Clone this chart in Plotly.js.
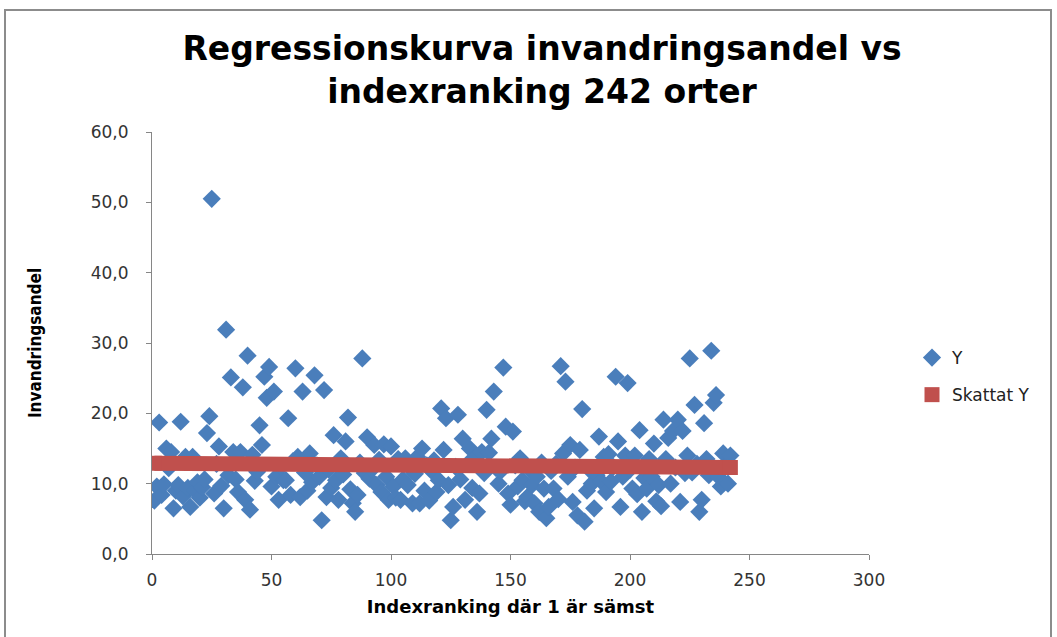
<!DOCTYPE html>
<html>
<head>
<meta charset="utf-8">
<script src="https://cdn.plot.ly/plotly-3.0.1.min.js"></script>
<style>html,body{margin:0;padding:0;background:#fff;}#chart{width:1057px;height:637px;}</style>
</head>
<body>
<div id="chart"></div>
<script>
// Index ranking (1 = worst), 242 towns
var rankX = [];
for (var i = 1; i <= 242; i++) rankX.push(i);

// Invandringsandel (share of immigrants, %), in rank order
var shareY = [
  7.6, 9.6, 18.7, 8.4, 9.9, 15.0, 12.2, 14.5, 6.5, 9.0,
  9.8, 18.8, 8.2, 13.8, 9.4, 6.7, 13.8, 9.0, 10.2, 8.0,
  9.5, 10.6, 17.2, 19.6, 50.5, 8.6, 12.8, 15.3, 9.7, 6.5,
  31.9, 11.2, 25.1, 14.5, 10.6, 8.8, 14.5, 23.7, 7.7, 28.2,
  6.3, 14.1, 10.4, 11.7, 18.3, 15.5, 25.2, 22.2, 26.6, 9.6,
  23.1, 11.0, 7.7, 12.4, 10.5, 10.5, 19.3, 8.4, 13.2, 26.4,
  13.8, 8.1, 23.1, 11.6, 9.0, 14.3, 10.2, 25.4, 12.6, 11.0,
  4.8, 23.3, 8.1, 12.0, 9.4, 16.9, 10.5, 7.7, 13.6, 11.3,
  16.0, 19.4, 9.2, 7.2, 6.0, 8.4, 13.0, 27.8, 11.5, 16.6,
  10.7, 12.0, 15.5, 9.8, 13.4, 8.8, 15.6, 11.0, 7.7, 15.3,
  9.6, 8.0, 13.5, 7.7, 10.6, 13.6, 9.8, 12.2, 7.2, 11.4,
  13.8, 7.2, 15.0, 9.0, 12.6, 7.6, 11.8, 13.3, 8.8, 10.5,
  20.7, 14.8, 19.3, 9.8, 4.8, 6.7, 12.4, 19.8, 10.6, 16.4,
  7.7, 12.8, 15.0, 9.4, 13.6, 6.0, 8.6, 14.5, 11.5, 20.5,
  14.4, 16.4, 23.1, 12.2, 10.0, 11.8, 26.5, 18.1, 8.6, 7.0,
  17.4, 12.6, 9.6, 13.6, 10.5, 7.5, 8.1, 12.0, 9.8, 7.2,
  11.0, 6.0, 13.0, 9.3, 5.1, 6.7, 11.8, 9.3, 12.8, 7.8,
  26.7, 14.3, 24.5, 11.0, 15.5, 7.4, 12.3, 5.5, 14.8, 20.6,
  4.6, 9.0, 12.0, 10.0, 6.5, 11.2, 16.7, 10.3, 13.8, 8.8,
  14.2, 10.3, 12.4, 25.2, 16.0, 6.7, 11.0, 14.0, 24.3, 12.0,
  9.3, 14.0, 8.5, 17.6, 6.0, 10.8, 9.3, 13.5, 11.0, 15.7,
  7.5, 9.8, 6.8, 19.1, 13.5, 16.5, 10.0, 17.5, 12.3, 19.1,
  7.4, 17.5, 11.5, 14.0, 27.8, 11.6, 21.2, 12.8, 6.0, 7.7,
  18.6, 13.5, 11.2, 28.9, 21.5, 22.6, 11.0, 9.6, 14.3, 12.5,
  10.0, 14.0
];

// Skattat Y (fitted regression line), end points
var fitX = [1, 242];
var fitY = [12.9, 12.3];

var xTickVals = [0, 50, 100, 150, 200, 250, 300];
var yTickVals = [0, 10, 20, 30, 40, 50, 60];

var blue = '#4A7EBB';
var red = '#C0504D';
var axisGrey = '#868686';

var traces = [
  {
    x: rankX, y: shareY, type: 'scatter', mode: 'markers', name: 'Y',
    legendgroup: 'a',
    marker: {symbol: 'diamond', size: 14, color: blue, line: {width: 0}},
    hoverinfo: 'x+y'
  },
  {
    x: fitX, y: fitY, type: 'scatter', mode: 'lines', name: 'Skattat Y',
    legendgroup: 'b', showlegend: false,
    line: {color: red, width: 15}, hoverinfo: 'skip'
  },
  {
    x: fitX, y: fitY, type: 'scatter', mode: 'markers', name: 'Skattat Y',
    legendgroup: 'b',
    marker: {symbol: 'square', size: 15, color: red, line: {width: 0}}
  }
];

var tickFont = {family: 'DejaVu Sans, Verdana, sans-serif', size: 17, color: '#333333'};

var layout = {
  width: 1057, height: 637,
  paper_bgcolor: '#ffffff', plot_bgcolor: '#ffffff',
  separators: ', ',
  margin: {l: 152, r: 188, t: 132, b: 83, autoexpand: false},
  title: {
    text: 'Regressionskurva invandringsandel vs<br>indexranking 242 orter',
    font: {family: 'DejaVu Sans, sans-serif', size: 33, color: '#000000', weight: 'bold'},
    x: 542 / 1057, xref: 'container', xanchor: 'center',
    y: 1 - 60 / 637, yref: 'container', yanchor: 'top'
  },
  xaxis: {
    range: [0, 300], tickvals: xTickVals, ticktext: xTickVals.map(String),
    showgrid: false, zeroline: false,
    showline: true, linecolor: axisGrey, linewidth: 1,
    ticks: 'outside', ticklen: 5, tickcolor: axisGrey, tickwidth: 1,
    tickfont: tickFont, ticklabelstandoff: 6,
    title: {
      text: 'Indexranking där 1 är sämst',
      font: {family: 'DejaVu Sans, Verdana, sans-serif', size: 18, color: '#000000', weight: 'bold'},
      standoff: 10
    },
    automargin: false, fixedrange: true
  },
  yaxis: {
    range: [0, 60], tickvals: yTickVals, tickformat: '.1f',
    showgrid: false, zeroline: false,
    showline: true, linecolor: axisGrey, linewidth: 1,
    ticks: 'outside', ticklen: 5, tickcolor: axisGrey, tickwidth: 1,
    tickfont: tickFont, ticklabelstandoff: 14,
    title: {
      text: 'Invandringsandel',
      font: {family: 'DejaVu Sans Condensed, DejaVu Sans, sans-serif', size: 17, color: '#000000', weight: 'bold'},
      standoff: 44
    },
    automargin: false, fixedrange: true
  },
  legend: {
    x: (912 - 152) / 717, xanchor: 'left',
    y: (554 - 340) / 422, yanchor: 'top',
    font: {family: 'DejaVu Sans, Verdana, sans-serif', size: 17, color: '#222222'},
    traceorder: 'grouped', tracegroupgap: 12,
    bgcolor: 'rgba(0,0,0,0)', borderwidth: 0
  },
  shapes: [
    {
      type: 'rect', xref: 'paper', yref: 'paper',
      x0: (5 - 152) / 717, x1: (1051 - 152) / 717,
      y0: (554 - 645) / 422, y1: (554 - 10) / 422,
      line: {color: '#8c8c8c', width: 2}, fillcolor: 'rgba(0,0,0,0)', layer: 'below'
    }
  ],
  showlegend: true,
  hovermode: 'closest'
};

Plotly.newPlot('chart', traces, layout, {displayModeBar: false, staticPlot: false, responsive: false});
</script>
</body>
</html>
